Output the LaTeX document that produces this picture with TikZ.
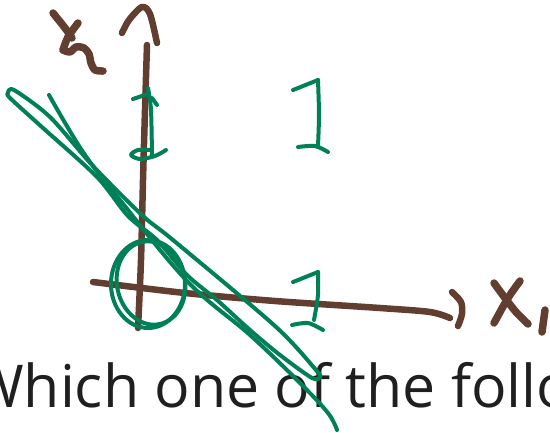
\documentclass[tikz,border=0pt]{standalone}
\usepackage{fontspec}
\setsansfont{Open Sans}
\definecolor{inkbrown}{RGB}{98,62,48}
\definecolor{inkgreen}{RGB}{0,128,86}
\begin{document}
\begin{tikzpicture}[x=1pt, y=-1pt,
  axisstroke/.style={inkbrown, line width=6.5pt, line cap=round, line join=round},
  labelstroke/.style={inkbrown, line width=7.5pt, line cap=round, line join=round},
  penstroke/.style={inkgreen, line width=4pt, line cap=round, line join=round}]
  \useasboundingbox (0,0) rectangle (550,432);
  \clip (0,0) rectangle (550,432);
  % Question text
  \node[anchor=base west, inner sep=0pt, text=black!88,
        font=\sffamily\fontsize{59}{70}\selectfont] (question) at (-31,407) {Which one of the follo};
  % Axes
  \draw[axisstroke] plot[smooth] coordinates {(147,45)(145,110)(143,180)(141,260)(138,328)};
  \draw[axisstroke] plot[smooth] coordinates {(122,33)(129,20)(142,7)(150,14)(157,43)};
  \draw[axisstroke] plot[smooth] coordinates {(93,282)(185,293)(275,301)(380,308)(430,312)(450,318)};
  \draw[axisstroke] plot[smooth] coordinates {(452,292)(461,302)(462,314)(458,326)};
  % Axis labels x2, x1
  \draw[labelstroke] plot[smooth] coordinates {(53,13)(65,28)(72,38)};
  \draw[labelstroke] plot[smooth] coordinates {(78,23)(68,37)(63,50)};
  \draw[labelstroke] plot[smooth] coordinates {(63,50)(70,52)(76,47)(84,48)(89,54)(91,63)(95,70)(103,71)};
  \draw[labelstroke] plot[smooth] coordinates {(494,283)(505,298)(516,312)(528,324)};
  \draw[labelstroke] plot[smooth] coordinates {(520,281)(508,298)(494,323)};
  \draw[labelstroke] (545,310) -- (542,332);
  % Ones
  \draw[penstroke] (133,99) -- (148,94);
  \draw[penstroke] plot[smooth] coordinates {(148,88)(151,110)(152,157)};
  \draw[penstroke] (152,98) -- (157,105);
  \draw[penstroke] plot[smooth] coordinates {(152,150)(138,150)(131,155)(140,159)(155,156)(166,150)};
  \draw[penstroke] (293,90) -- (318,80);
  \draw[penstroke] plot[smooth] coordinates {(318,80)(319,115)(318,146)};
  \draw[penstroke] plot[smooth] coordinates {(298,147)(315,146)(328,152)};
  \draw[penstroke] (293,282) -- (318,272);
  \draw[penstroke] plot[smooth] coordinates {(318,272)(318,295)(314,320)};
  \draw[penstroke] plot[smooth] coordinates {(292,325)(308,323)(323,330)};
  % Circle round the origin
  \draw[penstroke] (148,284) ellipse [x radius=37pt, y radius=44pt];
  \draw[penstroke, rotate around={12:(151,283)}] (151,283) ellipse [x radius=34pt, y radius=42pt];
  % Long loop and crossing line
  \draw[penstroke] plot[smooth, tension=0.5] coordinates {(8,93)(14,90)(50,117)(93,166)(143,216)(173,240)
    (275,326)(316,370)(320,377)(312,378)(280,355)(250,330)(217,300)(187,275)(157,240)(128,216)
    (97,177)(43,128)(10,98)(8,93)};
  \draw[penstroke] plot[smooth, tension=0.6] coordinates {(49,95)(83,152)(120,200)(188,282)(250,335)
    (300,383)(328,413)(337,430)};
\end{tikzpicture}
\end{document}
